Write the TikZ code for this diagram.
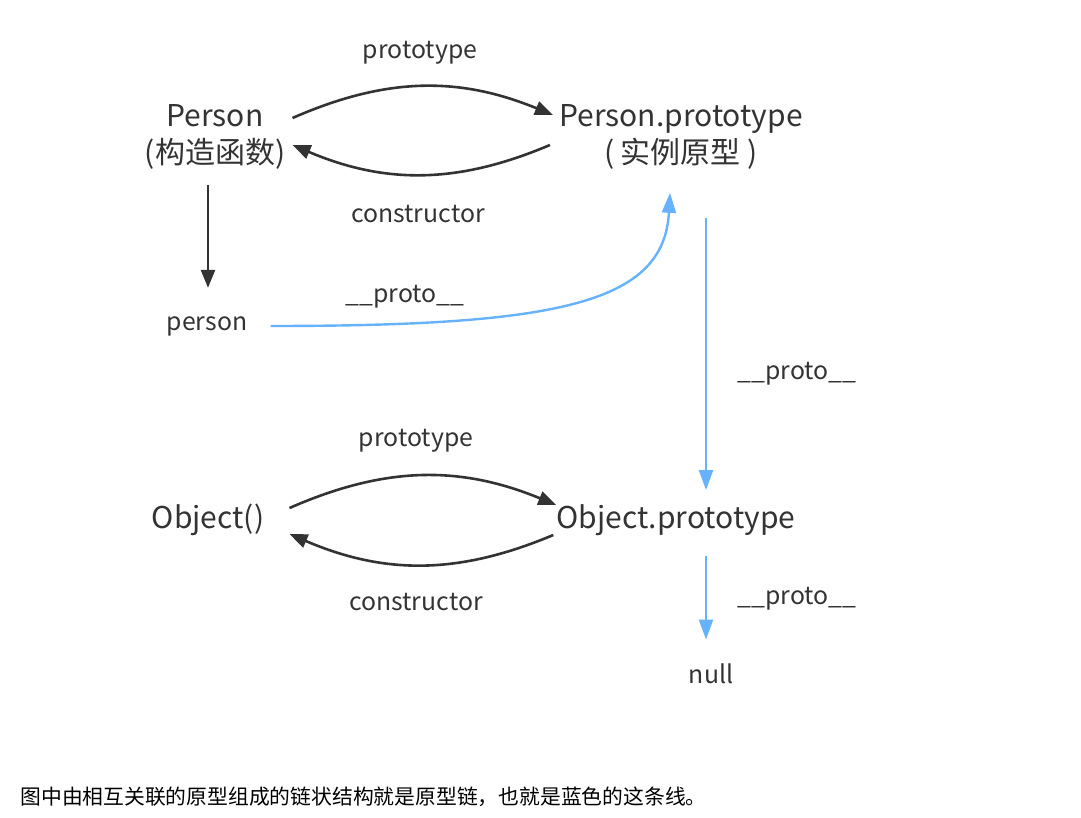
\documentclass[tikz,border=0pt]{standalone}
\usepackage{fontspec}
\setmainfont{Noto Sans CJK SC}
\usetikzlibrary{arrows.meta}
\definecolor{txt}{HTML}{333333}
\definecolor{chain}{HTML}{66B2FF}
\begin{document}
\begin{tikzpicture}[x=0.5pt,y=-0.5pt,
    big/.style={inner sep=0pt, align=center, text=txt, font=\fontsize{15}{18.5}\selectfont},
    small/.style={inner sep=0pt, text=txt, font=\fontsize{12.4}{14}\selectfont},
    blk/.style={draw=txt, line width=1.3pt, -{Triangle[length=9pt,width=7pt]}},
    blu/.style={draw=chain, line width=1.2pt, -{Triangle[length=10pt,width=7pt]}}]
    \useasboundingbox (0,0) rectangle (1081,818);
    % nodes
    \node[big] (P) at (215,137) {Person\\(构造函数)};
    \node[big] (PP) at (681,137) {Person.prototype\\( 实例原型 )};
    \node[small] (pn) at (207,326) {person};
    \node[big] (O) at (208,520) {Object()};
    \node[big] (OP) at (676,520) {Object.prototype};
    \node[small] (nl) at (711,674) {null};
    % labels
    \node[small] (l1) at (420,53) {prototype};
    \node[small] (l2) at (418,214) {constructor};
    \node[small] (l3) at (405,297) {\_\_proto\_\_};
    \node[small] (l4) at (797,374) {\_\_proto\_\_};
    \node[small] (l5) at (416,441) {prototype};
    \node[small] (l6) at (416,602) {constructor};
    \node[small] (l7) at (797,599) {\_\_proto\_\_};
    % connectors
    \draw[blk] ([shift={(7,-19)}]P.east) to[bend left=23] ([shift={(-6,-22)}]PP.west);
    \draw[blk] ([shift={(-9,8)}]PP.west) to[bend left=23] ([shift={(7,8)}]P.east);
    \draw[blk] (P.south -| pn.north) ++(1,15) -- ([shift={(1,-28)}]pn.north);
    \draw[blu] ([xshift=11.5pt]pn.east) .. controls +(290,0) and +(-6,110) .. ([shift={(-11,23)}]PP.south);
    \draw[blu] ([shift={(25,48)}]PP.south) -- ([shift={(30,-14)}]OP.north);
    \draw[blk] ([shift={(25,-12)}]O.east) to[bend left=23] ([shift={(0,-15)}]OP.west);
    \draw[blk] ([shift={(-3,15)}]OP.west) to[bend left=23] ([shift={(25,14)}]O.east);
    \draw[blu] ([shift={(30,20)}]OP.south) -- ([shift={(-5,-24)}]nl.north);
    % caption
    \node[anchor=west, inner sep=0pt, font=\fontsize{10.4}{12}\selectfont] (cap) at (20,797)
        {图中由相互关联的原型组成的链状结构就是原型链，也就是蓝色的这条线。};
\end{tikzpicture}
\end{document}
